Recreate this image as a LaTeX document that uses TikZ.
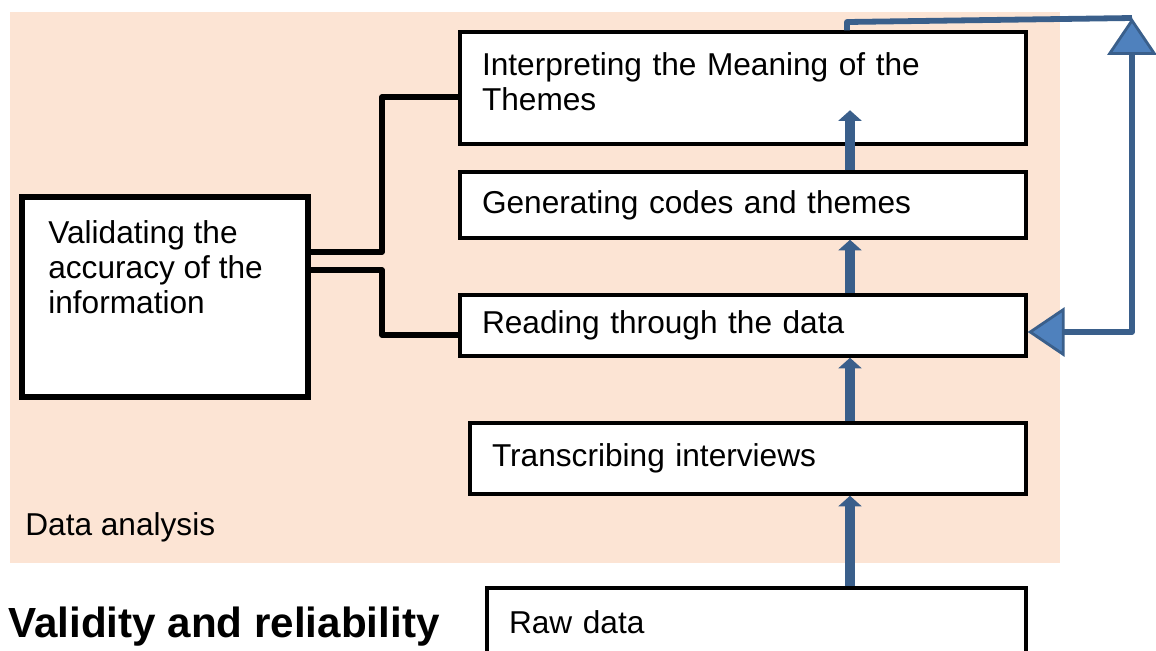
\documentclass[tikz,border=0pt]{standalone}
\usepackage{fontspec}
\setmainfont{Liberation Sans}
\usetikzlibrary{arrows.meta, positioning}
\definecolor{peach}{RGB}{252,228,212}
\definecolor{flowblue}{RGB}{58,95,139}
\definecolor{tipblue}{RGB}{79,129,189}

\begin{document}
\begin{tikzpicture}[x=0.02cm, y=-0.02cm]
\tikzset{
  stagebox/.style={draw, line width=2pt, fill=white, align=left, inner xsep=0.44cm,
    font=\fontsize{18}{20}\selectfont},
  plain/.style={inner sep=0, align=left, font=\fontsize{18}{20}\selectfont},
  link/.style={line width=3.2pt, line join=round},
  upflow/.style={flowblue, line width=5.7pt, -{Triangle[length=6pt, width=13pt]}},
  feedback/.style={flowblue, line width=3.3pt, line join=round},
  bigtip/.tip={Triangle[length=21pt, width=28pt, fill=tipblue, line width=1.6pt]}
}
\useasboundingbox (0,0) rectangle (1156,650);

% shaded area
\fill[peach] (10,12) rectangle (1060,563);

\node[stagebox, minimum width=11.32cm, minimum height=2.24cm, text width=10.44cm, text depth=27pt] (interp) at (743,88) {Interpreting the Meaning of the\\Themes};
\node[stagebox, minimum width=11.32cm, minimum height=1.32cm, text width=10.44cm] (gen) at (743,205) {Generating codes and themes};
\node[stagebox, minimum width=11.32cm, minimum height=1.22cm, text width=10.44cm] (read) at (743,325.5) {Reading through the data};
\node[stagebox, minimum width=11.12cm, minimum height=1.42cm, text width=10.24cm] (trans) at (748,458.5) {Transcribing interviews};
\node[stagebox, minimum width=10.78cm, minimum height=1.36cm, text width=9.9cm] (raw) at (756.5,622) {Raw data};

\node[draw, line width=3.2pt, fill=white, minimum width=5.72cm, minimum height=4cm] (valid) at (165,297) {};
\node[plain, anchor=north west] (validtext) at (48,220) {Validating the\\accuracy of the\\information};

\node[plain, anchor=west] (analysis) at (25,527) {Data analysis};
\node[inner sep=0, anchor=base west, font=\bfseries\fontsize{24}{28}\selectfont] (title) at (8,637) {Validity and reliability};

% validation links
\draw[link] (valid.east |- 0,252) -- (382,252) |- (interp.west |- 0,97);
\draw[link] (valid.east |- 0,270) -- (382,270) |- (read.west |- 0,335);

% upward flow
\coordinate (spine) at (850,0);
\draw[upflow] (gen.north -| spine) -- ++(0,-60);
\draw[upflow] (read.north -| spine) -- (gen.south -| spine);
\draw[upflow] (trans.north -| spine) -- (read.south -| spine);
\draw[upflow] (raw.north -| spine) -- (trans.south -| spine);

% loop back
\coordinate (loop) at (1132,18);
\draw[feedback] (interp.north -| 847,0) -- (847,22) -- (loop);
\draw[feedback, bigtip-bigtip] (read.east |- 0,332) -| (loop);
\end{tikzpicture}
\end{document}
